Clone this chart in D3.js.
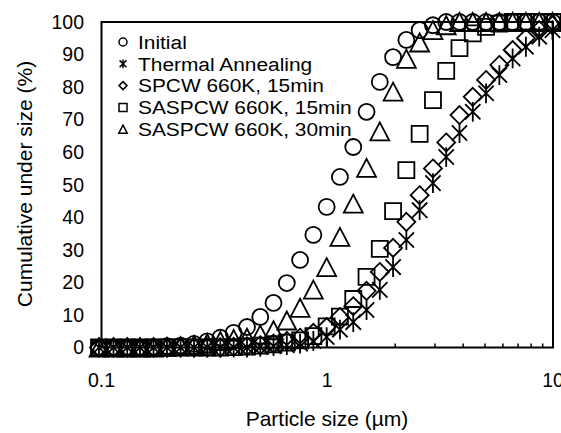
<!DOCTYPE html>
<html>
<head>
<meta charset="utf-8">
<script src="https://cdn.jsdelivr.net/npm/d3@7"></script>
<style>
  body { margin: 0; background: #ffffff; }
  svg { display: block; font-family: Arial, "Liberation Sans", sans-serif; }
</style>
</head>
<body>
<div id="chart"></div>
<script>
// Particle size grid (um), shared by all series
const sizes = [0.0975, 0.113, 0.130, 0.148, 0.170, 0.195, 0.224, 0.257, 0.294, 0.336,
  0.385, 0.441, 0.505, 0.578, 0.662, 0.758, 0.868, 0.994, 1.138, 1.304,
  1.493, 1.709, 1.957, 2.241, 2.566, 2.939, 3.365, 3.853, 4.412, 5.052,
  5.786, 6.625, 7.586, 8.686, 9.946];

// Cumulative under size (%) for each sample
const initial = [0, 0, 0, 0, 0.2, 0.4, 0.6, 1.1, 1.9, 3.0,
  4.5, 6.3, 9.4, 13.7, 19.8, 26.9, 34.6, 43.2, 52.4, 61.6,
  72.4, 81.6, 89.2, 94.5, 97.5, 99.0, 100, 100, 100, 100,
  100, 100, 100, 100, 100];
const thermal = [0, 0, 0, 0, 0, 0, 0, 0, 0, 0,
  0, 0, 0.2, 0.4, 0.7, 1.2, 2.0, 3.2, 5.5, 7.8,
  11.5, 17.7, 24.7, 33.0, 42.2, 50.5, 58.5, 65.9, 72.4, 78.1,
  83.7, 88.8, 92.4, 95.5, 97.5];
const spcw15 = [0, 0, 0, 0, 0, 0, 0, 0, 0, 0,
  0.2, 0.4, 0.7, 1.2, 2.0, 3.0, 4.5, 6.3, 9.4, 12.7,
  17.4, 23.2, 30.6, 38.6, 46.8, 55.0, 63.0, 71.4, 77.0, 82.2,
  86.8, 91.4, 95.0, 97.5, 99.0];
const saspcw15 = [0, 0, 0, 0, 0, 0, 0, 0, 0, 0,
  0.1, 0.3, 0.6, 1.0, 1.5, 2.2, 3.5, 6.5, 9.5, 14.9,
  21.7, 30.3, 41.9, 54.5, 65.6, 76.0, 85.0, 92.0, 96.5, 98.5,
  99.5, 100, 100, 100, 100];
const saspcw30 = [0, 0, 0, 0, 0, 0.2, 0.4, 0.8, 1.3, 2.0,
  2.6, 3.0, 4.0, 5.3, 8.3, 12.2, 17.8, 24.7, 34.0, 44.2,
  55.2, 66.4, 78.6, 88.7, 93.7, 97.5, 99.0, 100, 100, 100,
  100, 100, 100, 100, 100];

const seriesNames = ["Initial", "Thermal Annealing", "SPCW 660K, 15min",
  "SASPCW 660K, 15min", "SASPCW 660K, 30min"];
const seriesShapes = ["circle", "star", "diamond", "square", "triangle"];
const seriesValues = [initial, thermal, spcw15, saspcw15, saspcw30];

const xTicks = [0.1, 1, 10];
const yTicks = [0, 10, 20, 30, 40, 50, 60, 70, 80, 90, 100];

const width = 561;
const height = 433;

// Plot frame
const margin = { top: 22, right: 8, bottom: 85.5, left: 101.5 };

const svg = d3.select("#chart")
  .append("svg")
  .attr("width", width)
  .attr("height", height);

svg.append("rect")
  .attr("width", width)
  .attr("height", height)
  .attr("fill", "#ffffff");

const x = d3.scaleLog()
  .domain([0.1, 10])
  .range([margin.left, width - margin.right]);

const y = d3.scaleLinear()
  .domain([0, 100])
  .range([height - margin.bottom, margin.top]);

// Marker paths, s is the half size
function markerPath(shape, s) {
  switch (shape) {
    case "circle":
      return `M${s},0A${s},${s} 0 1,1 ${-s},0A${s},${s} 0 1,1 ${s},0Z`;
    case "square":
      return `M${-s},${-s}H${s}V${s}H${-s}Z`;
    case "diamond":
      return `M0,${-s}L${s},0L0,${s}L${-s},0Z`;
    case "triangle":
      return `M0,${-s}L${s * 1.05},${s}L${-s * 1.05},${s}Z`;
    case "star": {
      const d = s * 0.85;
      return `M${-d},${-d}L${d},${d}M${d},${-d}L${-d},${d}M0,${-s * 1.1}L0,${s * 1.1}`;
    }
  }
}

const markerSize = { circle: 8, square: 8, diamond: 9, triangle: 9, star: 9 };

// Axis lines (box around the plot)
const x0 = x.range()[0], x1 = x.range()[1];
const y0 = y.range()[0], y1 = y.range()[1];

const frame = svg.append("g").attr("class", "frame");
frame.append("rect")
  .attr("x", x0)
  .attr("y", y1)
  .attr("width", x1 - x0)
  .attr("height", y0 - y1)
  .attr("fill", "none")
  .attr("stroke", "#000")
  .attr("stroke-width", 2);

// Log ticks on the x axis, pointing inward
const minorTicks = [];
for (let dec = 0.1; dec < 10; dec *= 10) {
  for (let k = 2; k <= 9; k++) minorTicks.push(dec * k);
}
frame.selectAll(".minor-tick")
  .data(minorTicks)
  .enter()
  .append("line")
  .attr("class", "minor-tick")
  .attr("x1", d => x(d))
  .attr("x2", d => x(d))
  .attr("y1", y0)
  .attr("y2", y0 - 4)
  .attr("stroke", "#000")
  .attr("stroke-width", 1.5);

frame.selectAll(".major-tick")
  .data(xTicks)
  .enter()
  .append("line")
  .attr("class", "major-tick")
  .attr("x1", d => x(d))
  .attr("x2", d => x(d))
  .attr("y1", y0)
  .attr("y2", y0 - 7)
  .attr("stroke", "#000")
  .attr("stroke-width", 1.5);

// Tick labels (the "10" runs off the right edge, as in the original)
svg.selectAll(".x-label")
  .data(xTicks)
  .enter()
  .append("text")
  .attr("class", "x-label")
  .attr("x", d => x(d))
  .attr("y", 387)
  .attr("text-anchor", "middle")
  .attr("font-size", 19.5)
  .text(d => d3.format("~g")(d));

svg.selectAll(".y-label")
  .data(yTicks)
  .enter()
  .append("text")
  .attr("class", "y-label")
  .attr("x", 84)
  .attr("y", d => y(d))
  .attr("dy", "0.35em")
  .attr("text-anchor", "end")
  .attr("font-size", 19.5)
  .text(d => d);

// Axis titles
svg.append("text")
  .attr("x", 327)
  .attr("y", 426)
  .attr("text-anchor", "middle")
  .attr("font-size", 21)
  .text("Particle size (\u00b5m)");

svg.append("text")
  .attr("transform", "translate(32,184) rotate(-90)")
  .attr("text-anchor", "middle")
  .attr("font-size", 21)
  .text("Cumulative under size (%)");

// Data markers, drawn series by series
const markersLayer = svg.append("g").attr("class", "markers");
seriesValues.forEach((values, i) => {
  const shape = seriesShapes[i];
  const pts = sizes.map((s, j) => ({ size: s, value: values[j] }));
  markersLayer.append("g")
    .attr("class", `series series-${i}`)
    .selectAll("path")
    .data(pts)
    .enter()
    .append("path")
    .attr("transform", d => `translate(${x(d.size)},${y(d.value)})`)
    .attr("d", markerPath(shape, markerSize[shape]))
    .attr("fill", "none")
    .attr("stroke", "#000")
    .attr("stroke-width", 1.8);
});

// Legend in the upper left of the plot
const legend = svg.append("g")
  .attr("class", "legend")
  .attr("transform", "translate(123,42)");

const legendItems = legend.selectAll(".legend-item")
  .data(seriesNames)
  .enter()
  .append("g")
  .attr("class", "legend-item")
  .attr("transform", (d, i) => `translate(0,${i * 21.8})`);

legendItems.append("path")
  .attr("d", (d, i) => markerPath(seriesShapes[i], 4))
  .attr("fill", "none")
  .attr("stroke", "#000")
  .attr("stroke-width", 1.5);

// legend text is a little wider than the tick labels in the original
legendItems.append("text")
  .attr("transform", "translate(15,0) scale(1.1,1)")
  .attr("dy", "0.36em")
  .attr("font-size", 19)
  .text(d => d);
</script>
</body>
</html>
